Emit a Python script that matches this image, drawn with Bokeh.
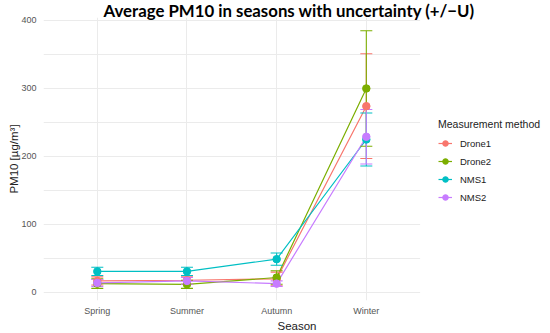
from bokeh.plotting import figure
from bokeh.models import Range1d, FixedTicker, ColumnDataSource, Legend, LegendItem, Title
from bokeh.embed import file_html
from bokeh.resources import INLINE

# ---- data ----
seasons = ["Spring", "Summer", "Autumn", "Winter"]
methods = ["Drone1", "Drone2", "NMS1", "NMS2"]
drone1 = [17, 18, 20, 274]
drone1_u = [6, 6, 10, 77]
drone2 = [13, 12, 22, 300]
drone2_u = [7, 6, 10, 85]
nms1 = [31, 31, 49, 225]
nms1_u = [6, 6, 9, 39]
nms2 = [14, 17, 13, 229]
nms2_u = [5, 5, 4, 40]
y_major = [0, 100, 200, 300, 400]
y_minor = [50, 150, 250, 350]

colors = ["#F8766D", "#7CAE00", "#00BFC4", "#C77CFF"]
series = [drone1, drone2, nms1, nms2]
uncert = [drone1_u, drone2_u, nms1_u, nms2_u]

xpos = list(range(1, len(seasons) + 1))
x_lo, x_hi = 0.4, len(seasons) + 0.6

p = figure(frame_width=507, frame_height=283, output_backend="svg", toolbar_location=None,
           x_range=Range1d(x_lo, 6.054), y_range=Range1d(-11.8, 404.4),
           min_border_left=43, min_border_right=0, min_border_top=17, min_border_bottom=33)
p.outline_line_color = None
p.background_fill_color = "white"
p.border_fill_color = "white"

p.title = Title(text="Average PM10 in seasons with uncertainty (+/\u2212U)",
                text_font="Lato", text_font_style="bold", text_font_size="16.8px",
                text_color="#000000", align="left", offset=60, standoff=-7)

FONT = "Liberation Sans"

# grid
p.ygrid.visible = False
p.xgrid.ticker = FixedTicker(ticks=xpos)
p.xgrid.grid_line_color = "#EBEBEB"
p.xgrid.grid_line_width = 1
gv = y_major + y_minor
p.multi_line(xs=[[x_lo, x_hi] for _ in gv], ys=[[v, v] for v in gv],
             line_color="#EBEBEB", line_width=1)

# axes
for ax in (p.xaxis[0], p.yaxis[0]):
    ax.axis_line_color = None
    ax.major_tick_line_color = None
    ax.minor_tick_line_color = None
    ax.major_tick_out = 0
    ax.major_tick_in = 0
    ax.minor_tick_out = 0
    ax.minor_tick_in = 0
    ax.major_label_text_font = FONT
    ax.major_label_text_font_size = "9px"
    ax.major_label_text_color = "#555555"
    ax.axis_label_text_font = FONT
    ax.axis_label_text_font_size = "11.5px"
    ax.axis_label_text_font_style = "normal"
    ax.axis_label_text_color = "#222222"

xa = p.xaxis[0]
xa.ticker = FixedTicker(ticks=xpos)
xa.major_label_overrides = {x: s for x, s in zip(xpos, seasons)}
xa.bounds = (x_lo, x_hi)
xa.major_label_standoff = 5
xa.axis_label = "Season"
xa.axis_label_standoff = 1

ya = p.yaxis[0]
ya.ticker = FixedTicker(ticks=y_major)
ya.major_label_standoff = 7
ya.axis_label = "PM10 [µg/m³]"
ya.axis_label_standoff = -2

sources = []
for vals, us in zip(series, uncert):
    sources.append(ColumnDataSource(dict(
        x=xpos, y=vals,
        lo=[v - u for v, u in zip(vals, us)],
        hi=[v + u for v, u in zip(vals, us)])))

line_rs = []
for src, c in zip(sources, colors):
    line_rs.append(p.line("x", "y", source=src, line_color=c, line_width=1.2))
for src, c in zip(sources, colors):
    p.segment(x0="x", y0="lo", x1="x", y1="hi", source=src, line_color=c, line_width=1.1)
    p.scatter("x", "lo", source=src, marker="dash", size=12, line_color=c, line_width=1.1)
    p.scatter("x", "hi", source=src, marker="dash", size=12, line_color=c, line_width=1.1)
pt_rs = []
for src, c in zip(sources, colors):
    pt_rs.append(p.scatter("x", "y", source=src, marker="circle", size=7.5,
                           fill_color=c, line_color=c))

legend = Legend(items=[LegendItem(label=m, renderers=[lr, pr])
                       for m, lr, pr in zip(methods, line_rs, pt_rs)],
                location=(395, 94), title="Measurement method",
                title_text_font=FONT, title_text_font_size="10.5px",
                title_text_font_style="normal", title_text_color="#222222",
                label_text_font=FONT, label_text_font_size="9.5px",
                label_text_color="#222222",
                glyph_width=14, glyph_height=18, label_height=18,
                spacing=0, padding=0, margin=0, label_standoff=8,
                title_standoff=4, border_line_color=None,
                background_fill_alpha=0)
p.add_layout(legend)

open("out.html", "w").write(file_html(p, INLINE))
